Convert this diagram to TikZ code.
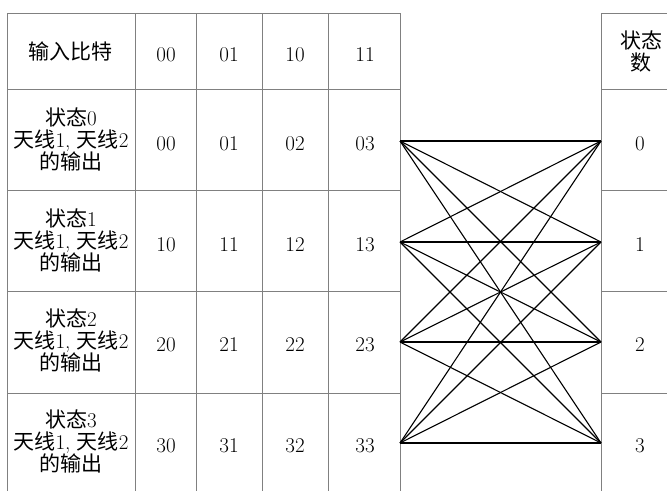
\documentclass[tikz,border=0pt]{standalone}
\usepackage{fontspec}
\newfontfamily\cjk{Noto Sans CJK SC}
\begin{document}
\begin{tikzpicture}[x=1pt,y=-1pt,
  grid/.style={draw=black!50,line width=0.8pt},
  edge/.style={draw=black,line width=1.1pt},
  cell/.style={align=center,inner sep=0pt,font=\fontsize{21}{22}\selectfont}]
\useasboundingbox (0,0) rectangle (667,491);
% left table grid
\foreach \x in {7,135,196,262,328,400} \draw[grid] (\x,13) -- (\x,491);
\foreach \y in {13,89,190,291,393} \draw[grid] (7,\y) -- (400,\y);
% right column grid
\draw[grid] (601,13) -- (601,491);
\foreach \y in {13,89,190,291,393} \draw[grid] (601,\y) -- (667,\y);
% header row
\node[cell] (hin) at (70,51) {{\cjk 输入比特}};
\node[cell] (h00) at (166,55) {00};
\node[cell] (h01) at (229,55) {01};
\node[cell] (h10) at (295,55) {10};
\node[cell] (h11) at (365,55) {11};
\node[cell] (hst) at (641,52) {{\cjk 状态}\\{\cjk 数}};
% rows
\foreach \r/\yc in {0/141,1/242,2/342,3/443} {
  \node[cell] (s\r) at (71,\yc-2) {{\cjk 状态}\r\\{\cjk 天线}1, {\cjk 天线}2\\{\cjk 的输出}};
  \foreach \c/\xc in {0/166,1/229,2/295,3/365}
    \node[cell] (o\r\c) at (\xc,\yc+3) {\r\c};
  \coordinate (L\r) at (400,\yc);
  \coordinate (R\r) at (601,\yc);
  \node[cell] (n\r) at (640,\yc+3) {\r};
}
% trellis
\foreach \i in {0,1,2,3}
  \foreach \j in {0,1,2,3}
    \draw[edge] (L\i) -- (R\j);
\end{tikzpicture}
\end{document}
